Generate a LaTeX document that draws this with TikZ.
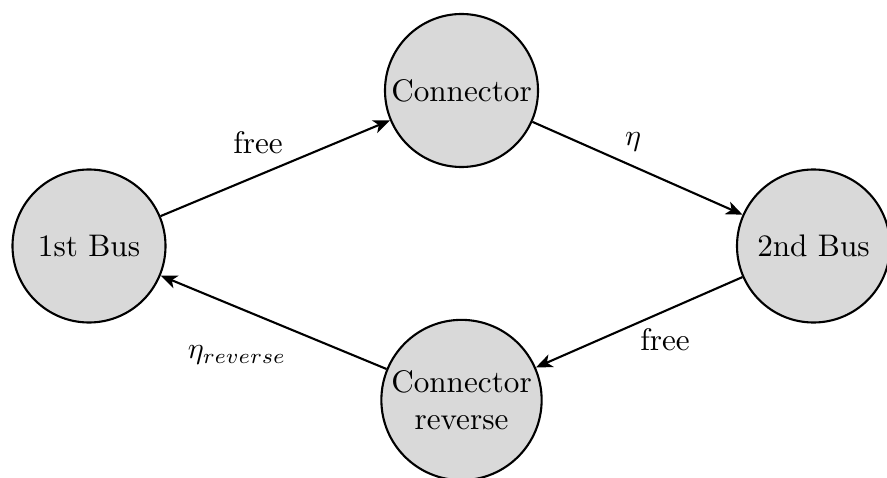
\documentclass[tikz,border=0pt]{standalone}
\usetikzlibrary{arrows.meta}
\begin{document}
\begin{tikzpicture}[x=0.3333pt, y=-0.3333pt,
  font=\fontsize{10.4pt}{12.4pt}\selectfont,
  state/.style={circle, draw=black, fill=gray!30, line width=0.7pt,
    minimum size=51pt, inner sep=1pt, align=center},
  flow/.style={line width=0.7pt, -{Stealth[length=5.5pt, width=4.5pt, inset=1.5pt]}},
  lbl/.style={inner sep=0pt}]
  \useasboundingbox (0,0) rectangle (887,478);

  % bus and connector states
  \node[state] (bus1) at (89,246)  {1st Bus};
  \node[state] (conn) at (461.5,90.5) {Connector};
  \node[state] (bus2) at (813.5,246) {2nd Bus};
  \node[state] (rev)  at (461.5,400) {Connector\\reverse};

  % transitions
  \draw[flow] (bus1) -- (conn);
  \draw[flow] (conn) -- (bus2);
  \draw[flow] (bus2) -- (rev);
  \draw[flow] (rev) -- (bus1);

  % transition labels
  \node[lbl] (l1) at (258,143) {free};
  \node[lbl] (l2) at (633,142) {$\eta$};
  \node[lbl] (l3) at (665,340) {free};
  \node[lbl] (l4) at (237,355) {$\eta_{reverse}$};
\end{tikzpicture}
\end{document}
